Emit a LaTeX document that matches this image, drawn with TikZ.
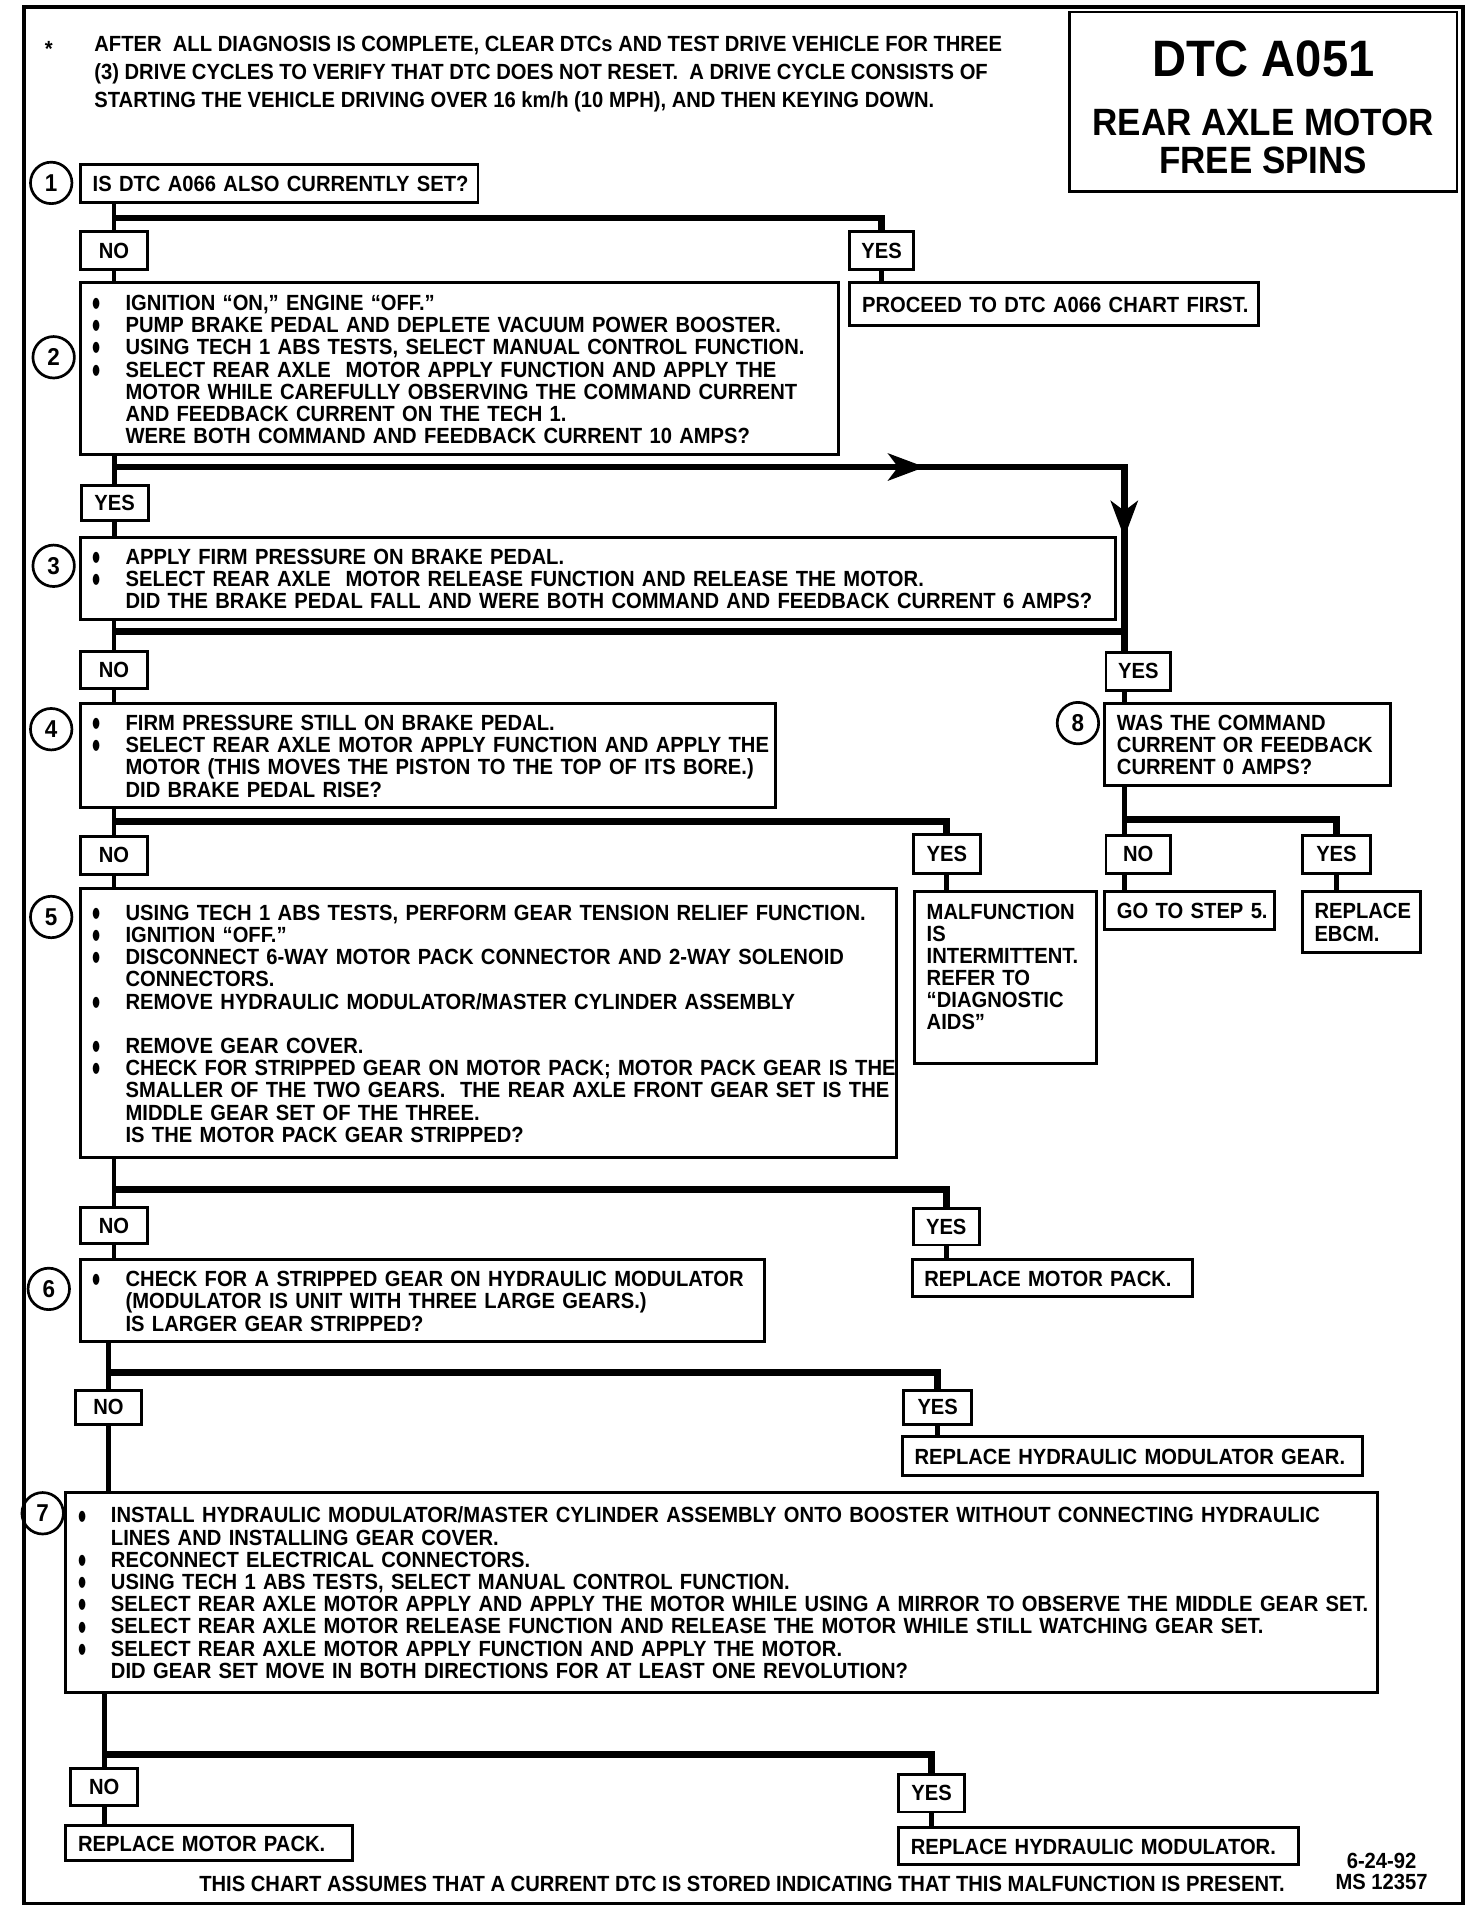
\documentclass[tikz,border=0pt]{standalone}
\usepackage{fontspec}
\setmainfont{Liberation Sans}[FakeStretch=0.92]
\usetikzlibrary{arrows.meta,decorations.markings}

\newcommand{\bul}{\makebox[13.5pt][l]{\raisebox{-2.5pt}{\scalebox{1.15}[1.75]{\textbullet}}}}
\newcommand{\cont}{\hspace*{13.5pt}}
\newcommand{\boxtext}[1]{\begin{tabular}{@{}l@{}}\rule{0pt}{9.4pt}#1\end{tabular}}

\begin{document}
\begin{tikzpicture}[x=0.5pt, y=-0.5pt, line join=miter,
    font=\fontsize{9}{9.1}\selectfont\bfseries,
    stepbox/.style={draw, line width=1.2pt, inner xsep=5pt, inner ysep=0pt, align=left},
    yn/.style={draw, line width=1.2pt, minimum width=27.5pt, minimum height=15.5pt, inner sep=0pt},
    num/.style={circle, draw, line width=1.1pt, minimum size=17pt, inner sep=0pt,
                font=\fontsize{10}{10}\selectfont\bfseries},
    link/.style={line width=2pt},
    bar/.style={line width=2.8pt},
    tipmarks/.style={postaction={decorate}, decoration={markings,
        mark=at position 0.69 with {\arrow{Stealth[length=15pt, width=11pt, inset=4pt]}},
        mark=at position 0.92 with {\arrow{Stealth[length=15pt, width=11pt, inset=4pt]}}}}]
\useasboundingbox (0,0) rectangle (1207,1568);
\fill[white] (0,0) rectangle (1207,1568);
\draw[line width=1.6pt] (20,6) rectangle (1200,1561);

% heading
\node[draw, line width=1pt, minimum width=159pt, minimum height=73.5pt, align=center,
      font=\fontsize{15.6}{15.5}\selectfont\bfseries] (title) at (1036,83.5)
      {{\fontsize{21}{21}\selectfont\rule{0pt}{19pt}DTC A051}\\[9pt]REAR AXLE MOTOR\\FREE SPINS};
\node (star) at (40,40) {*};
\node[anchor=west, align=left, inner sep=0pt, font=\fontsize{9}{11.5}\selectfont\bfseries] (note) at (77,61)
      {AFTER\ \ ALL DIAGNOSIS IS COMPLETE, CLEAR DTCs AND TEST DRIVE VEHICLE FOR THREE\\
       (3) DRIVE CYCLES TO VERIFY THAT DTC DOES NOT RESET.\ \ A DRIVE CYCLE CONSISTS OF\\
       STARTING THE VEHICLE DRIVING OVER 16 km/h (10 MPH), AND THEN KEYING DOWN.};

% step numbers
\foreach \n/\cx/\cy in {1/42/150, 2/44/293, 3/44/464, 4/42/598, 5/42/752,
                        6/40/1057, 7/35/1241, 8/884/593}
    \node[num] (c\n) at (\cx,\cy) {\n};

% questions
\node[stepbox, minimum width=163pt, minimum height=15.5pt, text width=153pt] (q1) at (229,150.5)
      {\boxtext{IS DTC A066 ALSO CURRENTLY SET?}};
\node[stepbox, minimum width=311pt, minimum height=70.5pt, text width=301pt] (s2) at (377,302.5)
      {\boxtext{\bul IGNITION ``ON,'' ENGINE ``OFF.''\\
       \bul PUMP BRAKE PEDAL AND DEPLETE VACUUM POWER BOOSTER.\\
       \bul USING TECH 1 ABS TESTS, SELECT MANUAL CONTROL FUNCTION.\\
       \bul SELECT REAR AXLE\ \ MOTOR APPLY FUNCTION AND APPLY THE\\
       \cont MOTOR WHILE CAREFULLY OBSERVING THE COMMAND CURRENT\\
       \cont AND FEEDBACK CURRENT ON THE TECH 1.\\
       \cont WERE BOTH COMMAND AND FEEDBACK CURRENT 10 AMPS?}};
\node[stepbox, minimum width=424.5pt, minimum height=33.5pt, text width=414.5pt] (s3) at (490.5,474.5)
      {\boxtext{\bul APPLY FIRM PRESSURE ON BRAKE PEDAL.\\
       \bul SELECT REAR AXLE\ \ MOTOR RELEASE FUNCTION AND RELEASE THE MOTOR.\\
       \cont DID THE BRAKE PEDAL FALL AND WERE BOTH COMMAND AND FEEDBACK CURRENT 6 AMPS?}};
\node[stepbox, minimum width=285pt, minimum height=42.5pt, text width=275pt] (s4) at (351,619.5)
      {\boxtext{\bul FIRM PRESSURE STILL ON BRAKE PEDAL.\\
       \bul SELECT REAR AXLE MOTOR APPLY FUNCTION AND APPLY THE\\
       \cont MOTOR (THIS MOVES THE PISTON TO THE TOP OF ITS BORE.)\\
       \cont DID BRAKE PEDAL RISE?}};
\node[stepbox, minimum width=117pt, minimum height=33.5pt, text width=107pt] (s8) at (1023,610.5)
      {\boxtext{WAS THE COMMAND\\CURRENT OR FEEDBACK\\CURRENT 0 AMPS?}};
\node[stepbox, minimum width=334.5pt, minimum height=110pt, text width=324.5pt] (s5) at (400.5,839)
      {\boxtext{\bul USING TECH 1 ABS TESTS, PERFORM GEAR TENSION RELIEF FUNCTION.\\
       \bul IGNITION ``OFF.''\\
       \bul DISCONNECT 6-WAY MOTOR PACK CONNECTOR AND 2-WAY SOLENOID\\
       \cont CONNECTORS.\\
       \bul REMOVE HYDRAULIC MODULATOR/MASTER CYLINDER ASSEMBLY\\[9.1pt]
       \bul REMOVE GEAR COVER.\\
       \bul CHECK FOR STRIPPED GEAR ON MOTOR PACK; MOTOR PACK GEAR IS THE\\
       \cont SMALLER OF THE TWO GEARS.\ \ THE REAR AXLE FRONT GEAR SET IS THE\\
       \cont MIDDLE GEAR SET OF THE THREE.\\
       \cont IS THE MOTOR PACK GEAR STRIPPED?}};
\node[stepbox, minimum width=280.5pt, minimum height=33.5pt, text width=270.5pt] (s6) at (346.5,1066.5)
      {\boxtext{\bul CHECK FOR A STRIPPED GEAR ON HYDRAULIC MODULATOR\\
       \cont (MODULATOR IS UNIT WITH THREE LARGE GEARS.)\\
       \cont IS LARGER GEAR STRIPPED?}};
\node[stepbox, minimum width=538pt, minimum height=82pt, text width=528pt] (s7) at (592,1306)
      {\boxtext{\bul INSTALL HYDRAULIC MODULATOR/MASTER CYLINDER ASSEMBLY ONTO BOOSTER WITHOUT CONNECTING HYDRAULIC\\
       \cont LINES AND INSTALLING GEAR COVER.\\
       \bul RECONNECT ELECTRICAL CONNECTORS.\\
       \bul USING TECH 1 ABS TESTS, SELECT MANUAL CONTROL FUNCTION.\\
       \bul SELECT REAR AXLE MOTOR APPLY AND APPLY THE MOTOR WHILE USING A MIRROR TO OBSERVE THE MIDDLE GEAR SET.\\
       \bul SELECT REAR AXLE MOTOR RELEASE FUNCTION AND RELEASE THE MOTOR WHILE STILL WATCHING GEAR SET.\\
       \bul SELECT REAR AXLE MOTOR APPLY FUNCTION AND APPLY THE MOTOR.\\
       \cont DID GEAR SET MOVE IN BOTH DIRECTIONS FOR AT LEAST ONE REVOLUTION?}};

% answers
\node[stepbox, minimum width=167.5pt, minimum height=17.5pt, text width=157.5pt] (a1) at (864.5,249.5)
      {\boxtext{PROCEED TO DTC A066 CHART FIRST.}};
\node[stepbox, minimum width=74.5pt, minimum height=70.5pt, text width=64.5pt] (a4) at (824.5,801.5)
      {\boxtext{MALFUNCTION\\IS\\INTERMITTENT.\\REFER TO\\``DIAGNOSTIC\\AIDS''\\[9pt]}};
\node[stepbox, minimum width=69.5pt, minimum height=15.5pt, text width=59.5pt] (a8n) at (975.5,746.5)
      {\boxtext{GO TO STEP 5.}};
\node[stepbox, minimum width=48.5pt, minimum height=25pt, text width=38.5pt] (a8y) at (1116.5,756)
      {\boxtext{REPLACE\\EBCM.}};
\node[stepbox, minimum width=115pt, minimum height=15pt, text width=105pt] (a5) at (863,1048)
      {\boxtext{REPLACE MOTOR PACK.}};
\node[stepbox, minimum width=188.5pt, minimum height=16pt, text width=178.5pt] (a6) at (928.5,1194)
      {\boxtext{REPLACE HYDRAULIC MODULATOR GEAR.}};
\node[stepbox, minimum width=117.5pt, minimum height=14.5pt, text width=107.5pt] (r7n) at (171.5,1511.5)
      {\boxtext{REPLACE MOTOR PACK.}};
\node[stepbox, minimum width=164pt, minimum height=15pt, text width=154pt] (r7y) at (901,1514)
      {\boxtext{REPLACE HYDRAULIC MODULATOR.}};

% yes / no tags
\node[yn] (no1) at (93.5,205.5) {NO};
\node[yn, minimum width=26pt] (yes1) at (723,205.5) {YES};
\node[yn, minimum height=14.5pt] (yes2) at (94,412.5) {YES};
\node[yn] (no3) at (93.5,549.5) {NO};
\node[yn, minimum width=26.5pt] (yes3) at (933.5,550.5) {YES};
\node[yn] (no4) at (93.5,701.5) {NO};
\node[yn, minimum height=16pt] (yes4) at (776.5,700) {YES};
\node[yn, minimum width=26.5pt] (no8) at (933.5,700.5) {NO};
\node[yn, minimum width=28pt] (yes8) at (1096,700.5) {YES};
\node[yn, minimum height=15pt] (no5) at (93.5,1005) {NO};
\node[yn, minimum width=27pt, minimum height=15pt] (yes5) at (776,1006) {YES};
\node[yn, minimum width=27pt, minimum height=14pt] (no6) at (89,1154) {NO};
\node[yn, minimum width=28pt, minimum height=14pt] (yes6) at (769,1154) {YES};
\node[yn] (no7) at (85.5,1465.5) {NO};
\node[yn, minimum width=27pt] (yes7) at (764,1470.5) {YES};

% connectors
\coordinate (b2) at (94,383);
\coordinate (j2) at (922,383);
\coordinate (b3) at (93.5,518);
\coordinate (j3) at (922,518);
\draw[link] (q1.south -| no1) -- (no1.north);
\draw[bar] ([yshift=5pt]no1.north) -| (yes1.north);
\draw[link] (no1.south) -- (no1.south |- s2.north);
\draw[link] (yes1.south) -- (yes1.south |- a1.north);
\draw[link] (s2.south -| yes2) -- (yes2.north);
\draw[bar, tipmarks] (b2) -- (j2) -- (j3);
\draw[link] (yes2.south) -- (yes2.south |- s3.north);
\draw[link] (s3.south -| no3) -- (no3.north);
\draw[bar] (b3) -- (j3) -- (j3 |- yes3.north);
\draw[link] (yes3.south -| j3) -- (s8.north -| j3);
\draw[link] (no3.south) -- (no3.south |- s4.north);
\draw[link] (s4.south -| no4) -- (no4.north);
\draw[bar] ([yshift=5.5pt]no4.north) -| (yes4.north);
\draw[link] (yes4.south) -- (yes4.south |- a4.north);
\draw[link] (no4.south) -- (no4.south |- s5.north);
\draw[link] (s8.south -| j3) -- (no8.north -| j3);
\draw[bar] ([yshift=6pt]no8.north -| j3) -| (yes8.north);
\draw[link] (no8.south -| j3) -- (a8n.north -| j3);
\draw[link] (yes8.south) -- (yes8.south |- a8y.north);
\draw[link] (s5.south -| no5) -- (no5.north);
\draw[bar] ([yshift=6.5pt]no5.north) -| (yes5.north);
\draw[link] (yes5.south) -- (yes5.south |- a5.north);
\draw[link] (no5.south) -- (no5.south |- s6.north);
\draw[link] (s6.south -| no6) -- (no6.north);
\draw[bar] ([yshift=6.5pt]no6.north) -| (yes6.north);
\draw[link] (yes6.south) -- (yes6.south |- a6.north);
\draw[link] (no6.south) -- (no6.south |- s7.north);
\draw[link] (s7.south -| no7) -- (no7.north);
\draw[bar] ([yshift=5pt]no7.north) -| (yes7.north);
\draw[link] (yes7.south) -- (yes7.south |- r7y.north);
\draw[link] (no7.south) -- (no7.south |- r7n.north);

% footer
\node[anchor=west, inner sep=0pt] (foot) at (163,1545)
      {THIS CHART ASSUMES THAT A CURRENT DTC IS STORED INDICATING THAT THIS MALFUNCTION IS PRESENT.};
\node[align=center, font=\fontsize{9}{8.5}\selectfont\bfseries] (date) at (1133,1535) {6-24-92\\MS 12357};
\end{tikzpicture}
\end{document}
